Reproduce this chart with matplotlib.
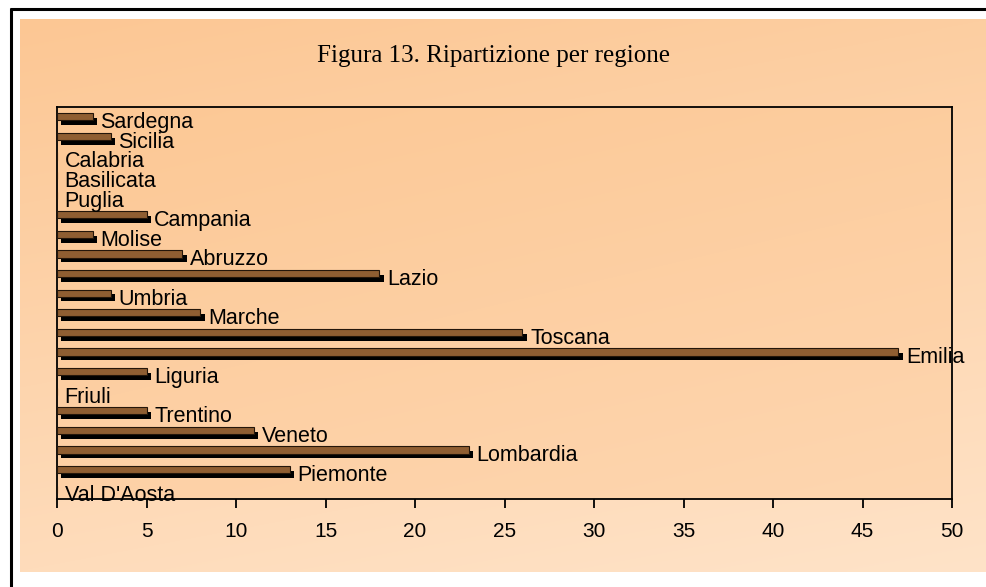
"""
Figura 13 - ripartizione per regione (barre orizzontali con ombra).
"""

import matplotlib
matplotlib.use('Agg')
import matplotlib.pyplot as plt
import matplotlib.colors as mcolors
import numpy as np

# Data (top to bottom as in the chart)
regions = ['Sardegna', 'Sicilia', 'Calabria', 'Basilicata', 'Puglia', 'Campania',
           'Molise', 'Abruzzo', 'Lazio', 'Umbria', 'Marche', 'Toscana', 'Emilia',
           'Liguria', 'Friuli', 'Trentino', 'Veneto', 'Lombardia', 'Piemonte',
           "Val D'Aosta"]
values = [2, 3, 0, 0, 0, 5, 2, 7, 18, 3, 8, 26, 47, 5, 0, 5, 11, 23, 13, 0]
xticks = [0, 5, 10, 15, 20, 25, 30, 35, 40, 45, 50]

W, H = 987, 587
fig = plt.figure(figsize=(W / 100, H / 100), dpi=100)
fig.patch.set_facecolor('white')

# ------------------------------------------------------------
# Background panel: border + peach gradient
# ------------------------------------------------------------
bg = fig.add_axes([0, 0, 1, 1], zorder=-2)
bg.set_xlim(0, W)
bg.set_ylim(H, 0)
bg.axis('off')

def gradient(c_top, c_bot, diag=0.25, n=200):
    yy, xx = np.mgrid[0:1:n * 1j, 0:1:n * 1j]
    t = np.clip((yy * (1 - diag) + xx * diag), 0, 1)
    a = np.array(mcolors.to_rgb(c_top))
    b = np.array(mcolors.to_rgb(c_bot))
    return a[None, None, :] * (1 - t[..., None]) + b[None, None, :] * t[..., None]

bg.imshow(gradient('#fcc794', '#ffe3c8'), extent=[20, W, 572, 19],
          aspect='auto', interpolation='bilinear')
bg.plot([10.5, 10.5], [8, H], color='black', lw=2.2, solid_capstyle='butt')
bg.plot([10, W], [9, 9], color='black', lw=2.2, solid_capstyle='butt')

fig.text(0.5, 1 - 56 / H, 'Figura 13. Ripartizione per regione',
         ha='center', va='center', fontsize=18, family='Liberation Serif')

# ------------------------------------------------------------
# Plot area
# ------------------------------------------------------------
left, right, top, bottom = 57, 952, 107, 499
ax = fig.add_axes([left / W, 1 - bottom / H, (right - left) / W, (bottom - top) / H])
ax.set_facecolor('none')

y = np.arange(len(regions))
ax.set_xlim(0, 50)
ax.set_ylim(len(regions) - 0.5, -0.5)

ax.imshow(gradient('#fcc895', '#fed6b0', diag=0.35), extent=[0, 50, len(regions) - 0.5, -0.5],
          aspect='auto', interpolation='bilinear', zorder=0)

bar_h = 0.36
# shadow
ax.barh(y + 0.24, values, left=0.25, height=bar_h, color='black', zorder=2)
# bar face
ax.barh(y, values, height=bar_h, color='#8f5e32', edgecolor='#24160a',
        linewidth=0.8, zorder=3)

for yi, v, name in zip(y, values, regions):
    ax.annotate(name, (v, yi + 0.3), xytext=(5.5, 0), textcoords='offset points',
                ha='left', va='center', fontsize=15.5, family='Liberation Sans',
                zorder=4, annotation_clip=False)

ax.set_yticks([])
ax.set_xticks(xticks)
ax.set_xticklabels([str(t) for t in xticks], fontsize=15, family='Liberation Sans')
ax.tick_params(axis='x', direction='out', length=6.5, width=1.3, pad=10)
for s in ax.spines.values():
    s.set_linewidth(1.3)
    s.set_color('black')

plt.savefig('out.png', dpi=100)
